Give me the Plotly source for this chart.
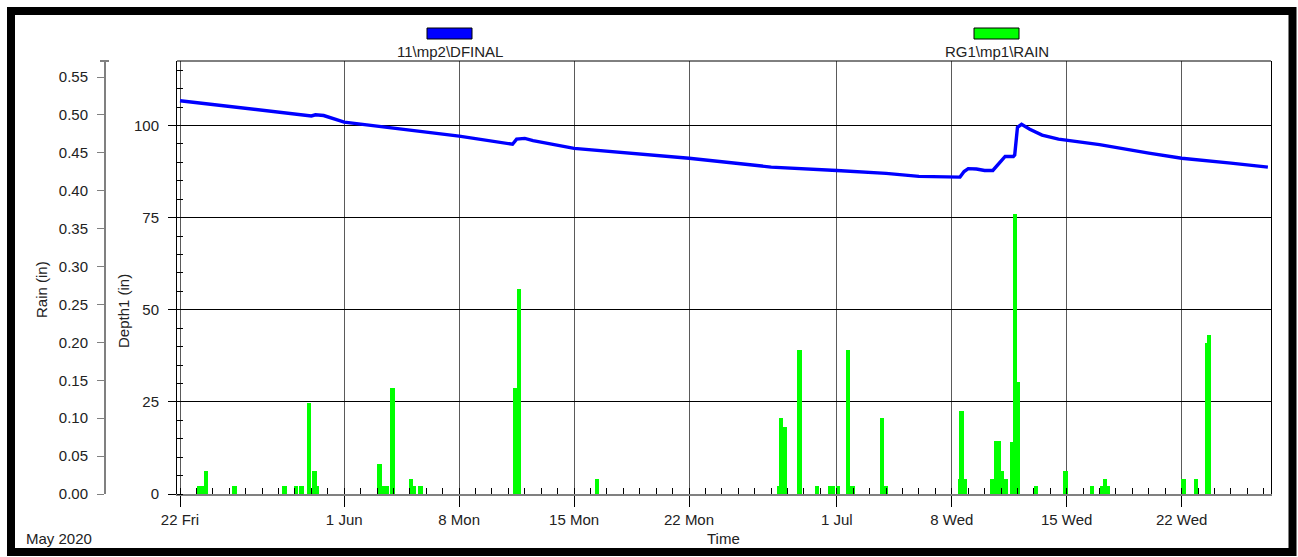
import plotly.graph_objects as go

W, H = 1298, 557

# ---------------- data ----------------
depth_times = ["2020-05-22 00:00", "2020-05-25 00:00", "2020-05-28 00:00", "2020-05-29 12:00",
               "2020-05-30 00:00", "2020-05-30 06:00", "2020-05-30 18:00", "2020-06-01 00:00",
               "2020-06-04 00:00", "2020-06-08 00:00", "2020-06-11 06:00", "2020-06-11 12:00",
               "2020-06-12 00:00", "2020-06-12 12:00", "2020-06-15 00:00", "2020-06-18 12:00",
               "2020-06-22 00:00", "2020-06-26 00:00", "2020-06-27 00:00", "2020-07-01 00:00",
               "2020-07-04 00:00", "2020-07-06 00:00", "2020-07-08 12:00", "2020-07-08 18:00",
               "2020-07-09 00:00", "2020-07-09 12:00", "2020-07-10 00:00", "2020-07-10 12:00",
               "2020-07-11 00:00", "2020-07-11 06:00", "2020-07-11 18:00", "2020-07-11 20:00",
               "2020-07-12 00:00", "2020-07-12 06:00", "2020-07-12 18:00", "2020-07-13 12:00",
               "2020-07-14 12:00", "2020-07-15 00:00", "2020-07-17 00:00", "2020-07-20 00:00",
               "2020-07-22 00:00", "2020-07-25 00:00", "2020-07-27 06:00"]
depth_values = [106.7, 105.2, 103.7, 103.0,
                102.6, 102.9, 102.7, 100.9,
                99.2, 97.1, 94.9, 96.3,
                96.5, 95.9, 93.8, 92.5,
                91.1, 89.2, 88.7, 87.8,
                87.0, 86.2, 86.0, 87.5,
                88.3, 88.2, 87.8, 87.8,
                90.2, 91.6, 91.6, 92.0,
                99.5, 100.3, 99.0, 97.4,
                96.3, 96.0, 94.8, 92.5,
                91.1, 89.8, 88.7]

rain_times = ["2020-05-23 04:00", "2020-05-23 08:00", "2020-05-23 14:00", "2020-05-25 08:00",
              "2020-05-28 09:00", "2020-05-29 01:30", "2020-05-29 09:00", "2020-05-29 20:40",
              "2020-05-30 04:00", "2020-05-30 08:00", "2020-06-03 03:00", "2020-06-03 09:00",
              "2020-06-03 14:30", "2020-06-03 22:00", "2020-06-05 01:40", "2020-06-05 06:00",
              "2020-06-05 15:00", "2020-06-11 09:30", "2020-06-11 15:30", "2020-06-16 09:30",
              "2020-06-27 11:30", "2020-06-27 14:30", "2020-06-27 19:00", "2020-06-28 18:00",
              "2020-06-29 19:00", "2020-06-30 14:20", "2020-06-30 18:30", "2020-07-01 01:40",
              "2020-07-01 16:20", "2020-07-01 22:20", "2020-07-03 18:00", "2020-07-04 00:00",
              "2020-07-08 12:00", "2020-07-08 14:30", "2020-07-08 19:10", "2020-07-10 12:00",
              "2020-07-10 16:40", "2020-07-10 21:00", "2020-07-11 01:30", "2020-07-11 06:00",
              "2020-07-11 16:00", "2020-07-11 20:30", "2020-07-11 23:30", "2020-07-13 03:00",
              "2020-07-14 21:40", "2020-07-16 13:00", "2020-07-17 03:40", "2020-07-17 08:00",
              "2020-07-17 12:00", "2020-07-22 02:30", "2020-07-22 21:00", "2020-07-23 13:00",
              "2020-07-23 16:00"]
rain_values = [0.01, 0.01, 0.03, 0.01,
               0.01, 0.01, 0.01, 0.12,
               0.03, 0.01, 0.04, 0.01,
               0.01, 0.14, 0.02, 0.01,
               0.01, 0.14, 0.27, 0.02,
               0.01, 0.10, 0.089, 0.19,
               0.01, 0.01, 0.01, 0.01,
               0.19, 0.01, 0.10, 0.01,
               0.02, 0.11, 0.02, 0.02,
               0.07, 0.07, 0.03, 0.02,
               0.069, 0.37, 0.148, 0.01,
               0.03, 0.01, 0.01, 0.02,
               0.01, 0.02, 0.02, 0.199,
               0.21]

x_tick_dates = ["2020-05-22", "2020-06-01", "2020-06-08", "2020-06-15", "2020-06-22",
                "2020-07-01", "2020-07-08", "2020-07-15", "2020-07-22"]
x_tick_text = ["22 Fri", "1 Jun", "8 Mon", "15 Mon", "22 Mon", "1 Jul", "8 Wed", "15 Wed", "22 Wed"]
depth_ticks = [0, 25, 50, 75, 100]
rain_ticks = [0.00, 0.05, 0.10, 0.15, 0.20, 0.25, 0.30, 0.35, 0.40, 0.45, 0.50, 0.55]

# ---------------- helpers ----------------
def px(x):
    return x / W

def py(y):
    return (H - y) / H

FONT = "Liberation Sans, Arial, sans-serif"
TXT = "#222222"
FS = 15

fig = go.Figure()

fig.add_trace(go.Scatter(
    x=depth_times, y=depth_values, mode="lines",
    line=dict(color="#0000FF", width=3.4), name="11\\mp2\\DFINAL",
    xaxis="x", yaxis="y", showlegend=False))

fig.add_trace(go.Bar(
    x=rain_times, y=rain_values, width=7 * 3600 * 1000,
    marker=dict(color="#00FF00", line=dict(width=0)),
    name="RG1\\mp1\\RAIN", xaxis="x", yaxis="y2", showlegend=False))

fig.update_layout(
    width=W, height=H, autosize=False,
    margin=dict(l=0, r=0, t=0, b=0, pad=0, autoexpand=False),
    paper_bgcolor="white", plot_bgcolor="white",
    font=dict(family=FONT, size=FS, color=TXT),
    bargap=0, barmode="overlay",
    xaxis=dict(
        type="date", automargin=False,
        domain=[px(177), px(1271)],
        range=["2020-05-21 19:37", "2020-07-27 10:34"],
        tickmode="array", tickvals=x_tick_dates, ticktext=x_tick_text,
        ticks="outside", ticklen=11, tickcolor="#000000", tickwidth=1,
        showgrid=True, gridcolor="#5a5a5a", gridwidth=1,
        showline=True, linecolor="#808080", linewidth=2,
        minor=dict(dtick=86400000, tick0="2020-05-22", ticks="inside", ticklen=6,
                   tickcolor="#000000", showgrid=False),
        zeroline=False, tickfont=dict(size=FS, color=TXT),
    ),
    yaxis=dict(
        automargin=False,
        domain=[py(494), py(61)],
        range=[0, 117.5],
        tickmode="array", tickvals=depth_ticks,
        ticks="outside", ticklen=8, tickcolor="#000000",
        ticklabelstandoff=6,
        showgrid=True, gridcolor="#000000", gridwidth=1,
        showline=True, linecolor="#000000", linewidth=1, mirror=True,
        minor=dict(dtick=5, ticks="inside", ticklen=6, tickcolor="#000000", showgrid=False),
        zeroline=False, tickfont=dict(size=FS, color=TXT),
    ),
    yaxis2=dict(
        automargin=False,
        overlaying="y", anchor="free", position=px(105), side="left",
        range=[0, 0.5712],
        tickmode="array", tickvals=rain_ticks, tickformat=".2f",
        ticks="outside", ticklen=7, tickcolor="#808080",
        ticklabelstandoff=6,
        showgrid=False, zeroline=False,
        showline=True, linecolor="#808080", linewidth=2,
        tickfont=dict(size=FS, color=TXT),
    ),
)

shapes = []
# top border of plot
shapes.append(dict(type="line", xref="paper", yref="paper",
                   x0=px(177), x1=px(1271), y0=py(61), y1=py(61),
                   line=dict(color="#000000", width=1)))
# rain axis top cap
shapes.append(dict(type="line", xref="paper", yref="paper",
                   x0=px(100), x1=px(109), y0=py(61), y1=py(61),
                   line=dict(color="#808080", width=2)))
# outer frame
shapes.append(dict(type="rect", xref="paper", yref="paper",
                   x0=px(11), x1=px(1292.5), y0=py(552), y1=py(11),
                   line=dict(color="#000000", width=8), fillcolor="rgba(0,0,0,0)"))
# legend swatches
shapes.append(dict(type="rect", xref="paper", yref="paper",
                   x0=px(427), x1=px(472), y0=py(39), y1=py(28),
                   line=dict(color="#000000", width=1), fillcolor="#0000FF"))
shapes.append(dict(type="rect", xref="paper", yref="paper",
                   x0=px(974), x1=px(1019), y0=py(39), y1=py(28),
                   line=dict(color="#000000", width=1), fillcolor="#00FF00"))
fig.update_layout(shapes=shapes)

annotations = [
    dict(text="11\\mp2\\DFINAL", x=px(450), y=py(52)),
    dict(text="RG1\\mp1\\RAIN", x=px(997), y=py(52)),
    dict(text="Rain (in)", x=px(42), y=py(290), textangle=-90),
    dict(text="Depth1 (in)", x=px(123), y=py(311), textangle=-90),
    dict(text="Time", x=px(723), y=py(538)),
    dict(text="May 2020", x=px(59), y=py(538)),
]
for a in annotations:
    a.update(dict(xref="paper", yref="paper", showarrow=False,
                  xanchor="center", yanchor="middle",
                  font=dict(family=FONT, size=FS, color=TXT)))
fig.update_layout(annotations=annotations)

fig.write_html("out.html",
               config={"displayModeBar": False},
               post_script="document.body.style.margin='0';document.body.style.overflow='hidden';")
